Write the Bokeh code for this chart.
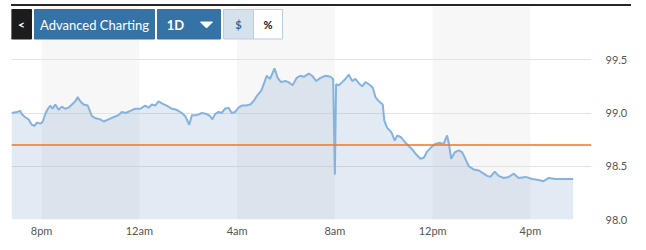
from bokeh.plotting import figure
from bokeh.models import (Range1d, FixedTicker, BoxAnnotation, Span, Div,
                          ColumnDataSource, NumeralTickFormatter)
from bokeh.layouts import column
from bokeh.core.properties import value
from bokeh.embed import file_html
from bokeh.resources import INLINE

# ---------------- data (hours after 8pm, price) ----------------
HOURS = [-1.23, -1.01, -0.87, -0.81, -0.67, -0.53, -0.40, -0.29, -0.19, -0.05,
         0.05, 0.15, 0.26, 0.36, 0.45, 0.56, 0.70, 0.83, 0.97, 1.10,
         1.24, 1.38, 1.48, 1.58, 1.72, 1.89, 2.06, 2.22, 2.40, 2.54,
         2.74, 2.94, 3.15, 3.28, 3.45, 3.63, 3.83, 4.04, 4.24, 4.38,
         4.51, 4.65, 4.79, 4.92, 5.12, 5.33, 5.53, 5.74, 5.88, 6.04,
         6.15, 6.35, 6.56, 6.76, 6.90, 6.99, 7.10, 7.24, 7.37, 7.51,
         7.65, 7.78, 7.92, 8.06, 8.19, 8.36, 8.54, 8.67, 8.81, 8.99,
         9.12, 9.21, 9.35, 9.53, 9.66, 9.80, 9.97, 10.10, 10.27, 10.44,
         10.58, 10.73, 10.93, 11.07, 11.24, 11.41, 11.62, 11.82, 11.93, 12.00,
         12.05, 12.16, 12.30, 12.43, 12.57, 12.71, 12.84, 12.98, 13.12, 13.25,
         13.39, 13.55, 13.66, 13.80, 13.96, 14.02, 14.14, 14.31, 14.45, 14.55,
         14.72, 14.89, 15.02, 15.16, 15.33, 15.50, 15.64, 15.78, 15.95, 16.11,
         16.28, 16.45, 16.59, 16.66, 16.76, 16.90, 17.07, 17.21, 17.34, 17.48,
         17.68, 17.89, 18.09, 18.23, 18.36, 18.54, 18.70, 18.91, 19.11, 19.32,
         19.52, 19.80, 20.07, 20.34, 20.54, 20.75, 21.02, 21.30, 21.75]
PRICE = [99.00, 99.01, 99.02, 98.99, 98.96, 98.94, 98.89, 98.88, 98.91, 98.90,
         98.92, 98.99, 99.04, 99.07, 99.04, 99.08, 99.03, 99.06, 99.04, 99.05,
         99.08, 99.11, 99.15, 99.11, 99.08, 99.07, 98.97, 98.95, 98.94, 98.92,
         98.94, 98.96, 98.98, 99.01, 99.00, 99.02, 99.04, 99.04, 99.07, 99.05,
         99.08, 99.07, 99.11, 99.09, 99.07, 99.04, 99.03, 99.00, 98.97, 98.89,
         98.98, 98.98, 99.00, 98.99, 98.97, 98.94, 98.99, 99.01, 99.00, 99.04,
         99.05, 99.00, 99.01, 99.05, 99.07, 99.07, 99.08, 99.11, 99.16, 99.21,
         99.29, 99.35, 99.32, 99.42, 99.33, 99.29, 99.30, 99.29, 99.26, 99.33,
         99.35, 99.34, 99.37, 99.35, 99.30, 99.33, 99.35, 99.34, 99.32, 98.42,
         99.27, 99.26, 99.29, 99.32, 99.36, 99.30, 99.32, 99.28, 99.25, 99.29,
         99.27, 99.24, 99.15, 99.11, 99.08, 98.93, 98.86, 98.82, 98.74, 98.79,
         98.77, 98.72, 98.69, 98.66, 98.61, 98.57, 98.58, 98.64, 98.68, 98.71,
         98.72, 98.71, 98.79, 98.72, 98.57, 98.63, 98.65, 98.63, 98.57, 98.50,
         98.47, 98.46, 98.43, 98.41, 98.40, 98.45, 98.41, 98.39, 98.40, 98.43,
         98.39, 98.40, 98.38, 98.37, 98.36, 98.39, 98.38, 98.38, 98.38]
REF_PRICE = 98.70

X_TICKS = [0, 4, 8, 12, 16, 20]
X_LABELS = ["8pm", "12am", "4am", "8am", "12pm", "4pm"]
Y_TICKS = [98.0, 98.5, 99.0, 99.5]
SESSION_BANDS = [(0, 4), (8, 12), (16, 20)]
X_START, X_END = -1.23, 22.5
Y_START, Y_END = 98.0, 100.0

# ---------------- toolbar chrome (pixel layout) ----------------
BTN_LEFT = [11, 34, 157, 223, 253]
BTN_RIGHT = [31, 154, 220, 253, 282]
BTN_FILL = ["#1c1c1e", "#3572a5", "#3572a5", "#d5e2ed", "#ffffff"]
BTN_LINE = ["#1c1c1e", "#3572a5", "#3572a5", "#b7cde1", "#b7cde1"]
BTN_TOP, BTN_BOTTOM = 9, 38.5
BTN_TEXT = ["<", "Advanced Charting", "1D", "$", "%"]
BTN_TEXT_X = [21, 94, 175, 238, 267.5]
BTN_TEXT_COLOR = ["#ffffff", "#ffffff", "#ffffff", "#2f6a9e", "#111111"]
BTN_TEXT_STYLE = ["bold", "normal", "bold", "bold", "bold"]
BTN_TEXT_SIZE = ["12px", "13px", "13px", "11px", "11px"]

FONT = "Lato"

p = figure(width=646, height=244,
           x_range=Range1d(X_START, X_END), y_range=Range1d(Y_START, Y_END),
           output_backend="svg", toolbar_location=None, y_axis_location="right",
           min_border_left=11, min_border_right=55, min_border_top=0,
           min_border_bottom=31)
p.outline_line_color = None
p.background_fill_color = "#ffffff"
p.border_fill_color = "#ffffff"

p.extra_x_ranges = {"px": Range1d(11, 591)}
p.extra_y_ranges = {"px": Range1d(219, 6)}

# axes
p.xaxis.ticker = FixedTicker(ticks=X_TICKS)
p.xaxis.major_label_overrides = {t: l for t, l in zip(X_TICKS, X_LABELS)}
p.yaxis.ticker = FixedTicker(ticks=Y_TICKS)
p.yaxis.formatter = NumeralTickFormatter(format="0.0")
for ax in (p.xaxis, p.yaxis):
    ax.axis_line_color = None
    ax.major_tick_line_color = None
    ax.minor_tick_line_color = None
    ax.major_tick_out = 0
    ax.major_label_text_font = FONT
    ax.major_label_text_font_size = "11px"
    ax.major_label_text_color = "#555555"
p.xaxis.major_label_standoff = 4
p.yaxis.major_label_standoff = 14

p.xgrid.visible = False
p.ygrid.ticker = FixedTicker(ticks=Y_TICKS)
p.ygrid.grid_line_color = "#e3e3e3"
p.ygrid.grid_line_width = 1

for a, b in SESSION_BANDS:
    p.add_layout(BoxAnnotation(left=a, right=b, fill_color="#f7f7f7",
                               fill_alpha=1.0, line_color=None, level="image"))

p.varea(x=HOURS, y1=Y_START, y2=PRICE, fill_color="#6f9cc4", fill_alpha=0.2)
p.line(HOURS, PRICE, line_color="#86b2df", line_width=2)
p.add_layout(Span(location=REF_PRICE, dimension="width",
                  line_color="#e8772e", line_width=1.5))

# buttons
btn = ColumnDataSource(dict(left=BTN_LEFT, right=BTN_RIGHT, fill=BTN_FILL,
                            line=BTN_LINE))
p.quad(left="left", right="right", top=BTN_TOP, bottom=BTN_BOTTOM,
       fill_color="fill", line_color="line", source=btn,
       x_range_name="px", y_range_name="px")
txt = ColumnDataSource(dict(x=BTN_TEXT_X, text=BTN_TEXT, color=BTN_TEXT_COLOR,
                            style=BTN_TEXT_STYLE, size=BTN_TEXT_SIZE))
p.text(x="x", y=24, text="text", text_color="color", text_font_style="style",
       text_font_size="size", text_font=value(FONT), text_align="center",
       text_baseline="middle", source=txt, x_range_name="px", y_range_name="px")
p.patch(x=[200, 212, 206], y=[21.5, 21.5, 27.5], fill_color="#ffffff",
        line_color="#ffffff", x_range_name="px", y_range_name="px")

bar = Div(text="", width=620, height=2, margin=(4, 0, 0, 11),
          styles={"background-color": "#25262a"})

layout = column(bar, p, spacing=0)
open("out.html", "w").write(file_html(layout, INLINE))
